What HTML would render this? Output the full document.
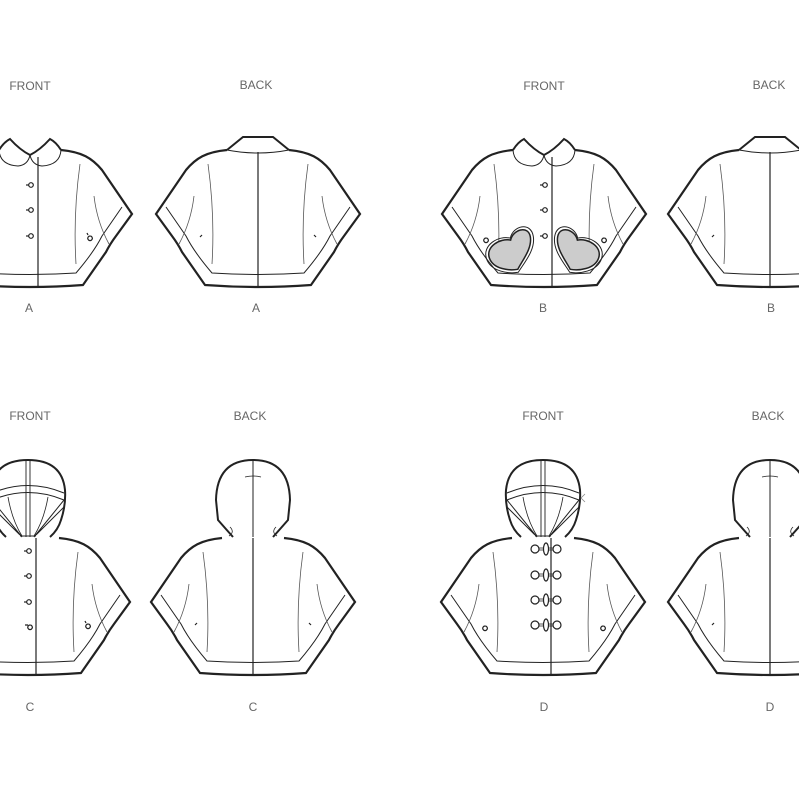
<!DOCTYPE html>
<html><head><style>
html,body{margin:0;padding:0;background:#fff;}
svg{display:block;}
text{font-family:"Liberation Sans",sans-serif;fill:#666;font-size:12px;}
</style></head><body>
<svg width="799" height="799" viewBox="0 0 799 799" xmlns="http://www.w3.org/2000/svg">
<defs>
<g id="body" fill="none" stroke="#222">
  <path d="M -31,150 C -52,152 -62,158 -72,170 L -102,214 L -86,236 Q -80,244 -76,252 L -53,285 Q 0,289 53,285 L 76,252 Q 80,244 86,236 L 102,214 L 72,170 C 62,158 52,152 31,150" stroke-width="2.2" fill="#fff"/>
  <path d="M -92,207 L -72,236 Q -64,252 -46,273 Q 0,276 46,273 Q 64,252 72,236 L 92,207" stroke-width="1"/>
  <path d="M -50,164 Q -43,215 -46,264" stroke-width="0.8" stroke="#555"/>
  <path d="M 50,164 Q 43,215 46,264" stroke-width="0.8" stroke="#555"/>
  <path d="M -64,196 Q -67,222 -79,244" stroke-width="0.8" stroke="#555"/>
  <path d="M 64,196 Q 67,222 79,244" stroke-width="0.8" stroke="#555"/>
</g>
<g id="backA" fill="none" stroke="#222">
  <use href="#body"/>
  <path d="M -31,150 L -15,137 L 15,137 L 31,150" stroke-width="2"/>
  <path d="M -31,150 Q 0,156 31,150" stroke-width="1"/>
  <path d="M 0,152 L 0,287" stroke-width="1.2"/>
  <path d="M -56,235 l -2,2 M 56,235 l 2,2" stroke-width="1.2"/>
</g>
<g id="frontA" fill="none" stroke="#222">
  <use href="#body"/>
  <path d="M -31,150 Q -26,142 -20,139 Q -10,150 0,155 Q 10,150 20,139 Q 26,142 31,150" stroke-width="2"/>
  <path d="M -31,150 Q -30,165 -12,166 Q -2,165 0,155 Q 2,165 12,166 Q 30,165 31,150" stroke-width="1"/>
  <path d="M 8,157 L 8,287" stroke-width="1.2"/>
</g>
<g id="buttons" fill="#fff" stroke="#222" stroke-width="1.2">
  <circle cx="1" cy="185" r="2.3"/><path d="M -4,185 h3"/>
  <circle cx="1" cy="210" r="2.3"/><path d="M -4,210 h3"/>
  <circle cx="1" cy="236" r="2.3"/><path d="M -4,236 h3"/>
</g>
<g id="heart" stroke="#222" stroke-width="1.5" fill="#ccc">
  <path d="M 0,-8 C 4,-18 20,-20 20,-8 C 20,4 8,14 2,22 C -6,22 -22,18 -24,6 C -26,-6 -10,-12 0,-8 Z" transform="rotate(-10)"/>
  <path d="M 0,-10 C 5,-22 23,-23 23,-8 C 23,6 9,17 2,25 C -7,25 -25,20 -27,6 C -29,-8 -11,-15 0,-10 Z" transform="rotate(-10)" fill="none" stroke-width="1"/>
</g>
<g id="hoodBack" fill="#fff" stroke="#222">
  <path d="M -20,537 Q -28,528 -35,520 L -37,500 Q -36,460 0,460 Q 36,460 37,500 L 35,520 Q 28,528 20,537" stroke-width="2"/>
  <path d="M 0,461 L 0,537" stroke-width="1" fill="none"/>
  <path d="M -8,477 Q 0,475 8,477" stroke-width="0.8" fill="none"/>
  <path d="M -23,527 Q -18,532 -24,536 M 23,527 Q 18,532 24,536" stroke-width="0.8" fill="none"/>
</g>
<g id="hoodFront" fill="#fff" stroke="#222">
  <path d="M -22,537 Q -30,530 -33,520 Q -38,505 -37,490 Q -34,460 0,460 Q 34,460 37,490 Q 38,505 33,520 Q 30,530 22,537" stroke-width="2"/>
  <path d="M -36,493 Q 0,478 36,493 M -36,500 Q 0,485 36,500" stroke-width="1" fill="none"/>
  <path d="M -36,500 L -6,537 M 36,500 L 6,537 M -36,507 L -8,535 M 36,507 L 8,535" stroke-width="1" fill="none"/>
  <path d="M -20,497 Q -16,520 -6,536 M 20,497 Q 16,520 6,536" stroke-width="0.8" fill="none"/>
  <path d="M -2,461 L -2,537 M 2,461 L 2,537" stroke-width="0.9" fill="none"/>
  <path d="M -8,536 h16" stroke-width="1"/>
</g>
<g id="toggle" fill="#fff" stroke="#222" stroke-width="1.2">
  <rect x="-15" y="-4" width="8" height="8" rx="4"/><rect x="7" y="-4" width="8" height="8" rx="4"/>
  <path d="M -7,-1 h14 M -7,1 h14" stroke-width="0.8"/>
  <ellipse cx="0" cy="0" rx="2.5" ry="6"/>
</g>
</defs>

<text x="30" y="90" text-anchor="middle">FRONT</text>
<text x="256" y="89" text-anchor="middle">BACK</text>
<text x="544" y="90" text-anchor="middle">FRONT</text>
<text x="769" y="89" text-anchor="middle">BACK</text>
<text x="29" y="312" text-anchor="middle">A</text>
<text x="256" y="312" text-anchor="middle">A</text>
<text x="543" y="312" text-anchor="middle">B</text>
<text x="771" y="312" text-anchor="middle">B</text>
<text x="30" y="420" text-anchor="middle">FRONT</text>
<text x="250" y="420" text-anchor="middle">BACK</text>
<text x="543" y="420" text-anchor="middle">FRONT</text>
<text x="768" y="420" text-anchor="middle">BACK</text>
<text x="30" y="711" text-anchor="middle">C</text>
<text x="253" y="711" text-anchor="middle">C</text>
<text x="544" y="711" text-anchor="middle">D</text>
<text x="770" y="711" text-anchor="middle">D</text>

<g transform="translate(30,0)"><use href="#frontA"/><use href="#buttons"/>
<path d="M 60,236 a2.3,2.3 0 1 0 0.1,0 M 57,233 l 1,2" fill="none" stroke="#222" stroke-width="1.2"/></g>
<g transform="translate(258,0)"><use href="#backA"/></g>
<g transform="translate(544,0)"><use href="#frontA"/><use href="#buttons"/>
<path d="M -58,238 a2.3,2.3 0 1 0 0.1,0 M 60,238 a2.3,2.3 0 1 0 0.1,0" fill="none" stroke="#222" stroke-width="1.2"/></g>
<g transform="translate(512,248)"><use href="#heart"/></g>
<g transform="translate(576,248) scale(-1,1)"><use href="#heart"/></g>
<g transform="translate(770,0)"><use href="#backA"/></g>

<g transform="translate(28,388)"><use href="#body"/>
<path d="M 8,150 L 8,287" fill="none" stroke="#222" stroke-width="1.2"/>
<g transform="translate(0,-22)"><use href="#buttons"/></g>
<path d="M 0,237 h-3 m 5,0 a2.3,2.3 0 1 0 0.1,0" fill="none" stroke="#222" stroke-width="1.2"/>
<path d="M 60,236 a2.3,2.3 0 1 0 0.1,0 M 57,233 l 1,2" fill="none" stroke="#222" stroke-width="1.2"/></g>
<g transform="translate(28,0)"><use href="#hoodFront"/></g>
<g transform="translate(253,388)"><use href="#body"/>
<path d="M 0,150 L 0,287" stroke="#222" stroke-width="1.2"/>
<path d="M -56,235 l -2,2 M 56,235 l 2,2" fill="none" stroke="#222" stroke-width="1.2"/></g>
<g transform="translate(253,0)"><use href="#hoodBack"/></g>

<g transform="translate(543,388)"><use href="#body"/>
<path d="M 8,150 L 8,287" fill="none" stroke="#222" stroke-width="1.2"/>
<path d="M -58,238 a2.3,2.3 0 1 0 0.1,0 M 60,238 a2.3,2.3 0 1 0 0.1,0" fill="none" stroke="#222" stroke-width="1.2"/></g>
<g transform="translate(543,0)"><use href="#hoodFront"/>
<path d="M 42,494 l -4,4 l 4,4" fill="none" stroke="#888" stroke-width="0.8"/></g>
<g transform="translate(546,549)"><use href="#toggle"/></g>
<g transform="translate(546,575)"><use href="#toggle"/></g>
<g transform="translate(546,600)"><use href="#toggle"/></g>
<g transform="translate(546,625)"><use href="#toggle"/></g>
<g transform="translate(770,388)"><use href="#body"/>
<path d="M 0,150 L 0,287" stroke="#222" stroke-width="1.2"/>
<path d="M -56,235 l -2,2" fill="none" stroke="#222" stroke-width="1.2"/></g>
<g transform="translate(770,0)"><use href="#hoodBack"/></g>
</svg>
</body></html>
